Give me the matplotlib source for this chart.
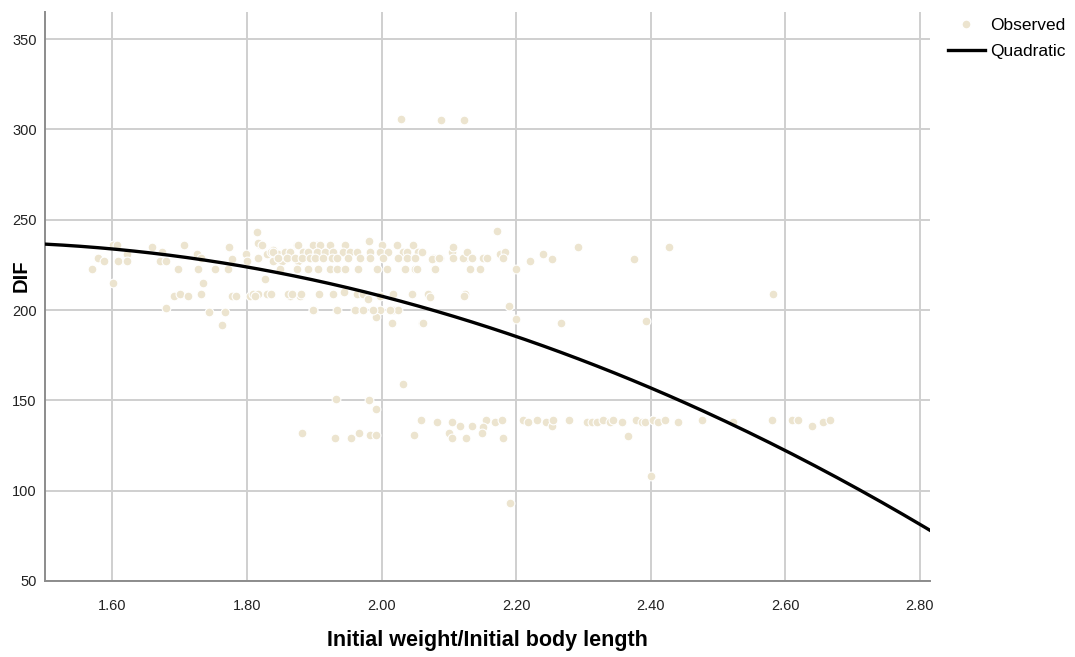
import numpy as np
import matplotlib
matplotlib.use("Agg")
import matplotlib.pyplot as plt
from matplotlib.lines import Line2D

plt.rcParams['font.family'] = ['Liberation Sans', 'DejaVu Sans']

## ------------------------------------------------------------------
## Observed points
## ------------------------------------------------------------------
left_x = [1.570, 1.579, 1.588, 1.601, 1.607, 1.609, 1.622, 1.622, 1.601, 1.659,
          1.674, 1.671, 1.679, 1.707, 1.697, 1.726, 1.731, 1.728, 1.734, 1.753,
          1.774, 1.778, 1.772, 1.799, 1.800, 1.815, 1.820, 1.817, 1.827, 1.830,
          1.838, 1.842, 1.691, 1.701, 1.713, 1.731, 1.778, 1.784, 1.805, 1.809,
          1.817, 1.832, 1.680, 1.743, 1.768, 1.763,
          1.817, 1.823, 1.835, 1.846, 1.875, 1.887, 1.904, 1.839, 1.852, 1.876,
          1.890, 1.875, 1.812, 1.830, 1.864, 1.879, 1.898]
left_y = [223, 229, 227, 236, 236, 227, 231, 227, 215, 235,
          232, 227, 227, 236, 223, 231, 229, 223, 215, 223,
          235, 228, 223, 231, 227, 243, 236, 229, 217, 231,
          233, 228, 208, 209, 208, 209, 208, 208, 208, 209,
          209, 209, 201, 199, 199, 192,
          237, 236, 232, 231, 236, 232, 236, 227, 227, 227,
          223, 223, 208, 209, 208, 208, 200]

band_x = [1.876, 1.898, 1.909, 1.924, 1.946, 2.001, 2.023, 2.047, 1.982,
          1.839, 1.857, 1.864, 1.884, 1.890, 1.904, 1.916, 1.928, 1.942, 1.953,
          1.964, 1.983, 1.998, 2.010, 2.032, 2.038, 2.054, 2.060, 2.105,
          1.846, 1.860, 1.872, 1.882, 1.894, 1.901, 1.913, 1.927, 1.934, 1.950,
          1.968, 1.983, 2.002, 2.025, 2.038, 2.050, 2.077, 2.087, 2.106, 2.124,
          1.849, 1.875, 1.890, 1.906, 1.924, 1.934, 1.946, 1.965, 1.993, 2.008,
          2.035, 2.050, 2.053, 2.080,
          1.835, 1.861, 1.867, 1.881, 1.907, 1.928, 1.964, 1.973, 2.017, 2.045,
          2.069, 2.124,
          1.898, 1.934, 1.961, 1.973, 1.998, 2.017, 2.025, 1.991, 2.016, 2.060,
          1.944, 1.980, 1.998, 1.988, 2.013, 2.062]
band_y = [236, 236, 236, 236, 236, 236, 236, 236, 238,
          232, 232, 232, 232, 232, 232, 232, 232, 232, 232,
          232, 232, 232, 232, 232, 232, 232, 232, 232,
          229, 229, 229, 229, 229, 229, 229, 229, 229, 229,
          229, 229, 229, 229, 229, 229, 229, 229, 229, 229,
          223, 223, 223, 223, 223, 223, 223, 223, 223, 223,
          223, 223, 223, 223,
          209, 209, 209, 209, 209, 209, 209, 209, 209, 209,
          209, 209,
          200, 200, 200, 200, 200, 200, 200, 196, 193, 193,
          210, 206, 208, 200, 200, 193]

right_x = [2.075, 2.086, 2.080, 2.106, 2.121, 2.127, 2.135, 2.151, 2.157, 2.132,
           2.146, 2.172, 2.176, 2.184, 2.181, 2.200, 2.221, 2.240, 2.253, 2.292,
           2.375, 2.427,
           2.072, 2.123, 2.189, 2.200, 2.267, 2.393, 2.581]
right_y = [228, 229, 223, 235, 229, 232, 229, 229, 229, 223,
           223, 244, 231, 232, 229, 223, 227, 231, 228, 235,
           228, 235,
           207, 208, 202, 195, 193, 194, 209]

low_x = [1.933, 1.982, 1.991, 2.032, 1.882, 1.931, 1.955, 1.967, 1.983, 1.991,
         2.048, 2.059, 2.083, 2.105, 2.117, 2.135, 2.155, 2.151, 2.149, 2.169,
         2.179, 2.100, 2.105, 2.126, 2.181,
         2.210, 2.218, 2.231, 2.244, 2.253, 2.255, 2.279, 2.305, 2.313, 2.320,
         2.329, 2.339, 2.344, 2.357, 2.366, 2.378, 2.387, 2.391, 2.403, 2.411,
         2.421, 2.440, 2.476, 2.522, 2.580, 2.610, 2.619, 2.639, 2.656, 2.666]
low_y = [151, 150, 145, 159, 132, 129, 129, 132, 131, 131,
         131, 139, 138, 138, 136, 136, 139, 135, 132, 138,
         139, 132, 129, 129, 129,
         139, 138, 139, 138, 136, 139, 139, 138, 138, 138,
         139, 138, 139, 138, 130, 139, 138, 138, 139, 138,
         139, 138, 139, 138, 139, 139, 139, 136, 138, 139]

outlier_x = [2.400, 2.191, 2.029, 2.089, 2.123]
outlier_y = [108, 93, 306, 305, 305]

## quadratic fit y = b0 + b1*x + b2*x^2, coefficients
quad_coef = [91.3, 212.6, -77.2]

x_ticks = [1.60, 1.80, 2.00, 2.20, 2.40, 2.60, 2.80]
y_ticks = [50, 100, 150, 200, 250, 300, 350]


def main():
    obs_x = np.array(left_x + band_x + right_x + low_x + outlier_x)
    obs_y = np.array(left_y + band_y + right_y + low_y + outlier_y)

    dpi = 100
    fig = plt.figure(figsize=(10.75, 6.57), dpi=dpi)
    ax = fig.add_axes([0.0419, 0.1157, 0.8233, 0.8660])

    ##-------------------------------------------------------------------
    ## grid + spines
    ##-------------------------------------------------------------------
    ax.set_axisbelow(True)
    ax.grid(True, color='#cfcfcf', linewidth=1.4)
    for s in ['top', 'right']:
        ax.spines[s].set_visible(False)
    for s in ['left', 'bottom']:
        ax.spines[s].set_color('#8c8c8c')
        ax.spines[s].set_linewidth(1.4)

    ax.scatter(obs_x, obs_y, s=40, color='#ece4cf', edgecolors='white',
               linewidths=0.8, zorder=2)

    xs = np.linspace(1.50, 2.815, 200)
    ys = quad_coef[0] + quad_coef[1] * xs + quad_coef[2] * xs ** 2
    ax.plot(xs, ys, color='black', linewidth=2.4, zorder=3)

    ax.set_xlim(1.50, 2.815)
    ax.set_ylim(50, 365)
    ax.set_xticks(x_ticks)
    ax.set_xticklabels(['%.2f' % v for v in x_ticks])
    ax.set_yticks(y_ticks)
    ax.tick_params(axis='both', length=0, labelsize=10.5, colors='#222222')
    ax.tick_params(axis='x', pad=13)
    ax.tick_params(axis='y', pad=6)

    ax.set_xlabel('Initial weight/Initial body length', fontsize=15.5,
                  fontweight='bold')
    ax.xaxis.set_label_coords(0.5, -0.087)
    ax.set_ylabel('DIF', fontsize=14.5, fontweight='bold')
    ax.yaxis.set_label_coords(-0.016, 0.536)

    handles = [Line2D([], [], linestyle='none', marker='o', markersize=6.5,
                      markerfacecolor='#ece4cf', markeredgecolor='white'),
               Line2D([], [], color='black', linewidth=2.4)]
    fig.legend(handles, ['Observed', 'Quadratic'], loc='upper left',
               bbox_to_anchor=(0.882, 0.973), frameon=False, fontsize=12.5,
               handlelength=2.1, handletextpad=0.3, labelspacing=0.63,
               borderaxespad=0, borderpad=0)

    plt.savefig('out.png', dpi=dpi)


if __name__ == '__main__':
    main()
